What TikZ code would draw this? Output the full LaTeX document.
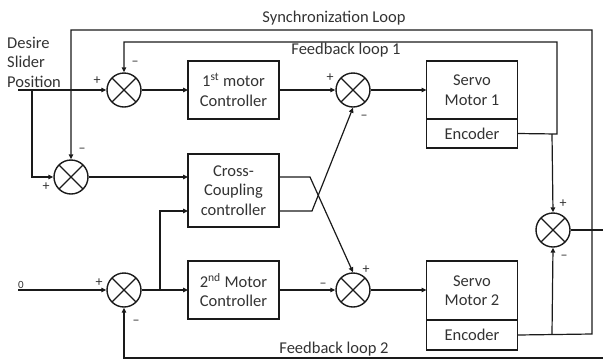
\documentclass[tikz,border=0pt]{standalone}
\usepackage{fontspec}
\setmainfont{Carlito}
\usetikzlibrary{arrows.meta}
\definecolor{ln}{HTML}{1A1A1A}
\definecolor{tx}{HTML}{333333}
\tikzset{
  blk/.style={draw=ln, line width=1.3pt, rectangle, inner sep=0pt, outer sep=0pt, minimum width=91pt, align=center, text=tx, font=\fontsize{16.5}{19.5}\selectfont},
  sumj/.style={circle, draw=ln, line width=1.4pt, minimum size=34pt, inner sep=0pt,
    path picture={\draw[ln, line width=1.2pt] (path picture bounding box.north west) -- (path picture bounding box.south east)
      (path picture bounding box.north east) -- (path picture bounding box.south west);}},
  wire/.style={draw=ln, line width=1.2pt},
  arr/.style={wire, -{Triangle[length=5pt,width=4.5pt]}},
  sgn/.style={text=tx, inner sep=0pt, font=\fontsize{14}{14}\selectfont},
  lbl/.style={text=tx, inner sep=0pt, font=\fontsize{16.5}{19.5}\selectfont},
}
\begin{document}
\begin{tikzpicture}[x=1pt,y=-1pt]
\useasboundingbox (0,0) rectangle (603,360);
% blocks
\node[blk, minimum height=58pt] (mc1) at (233.5,90) {1\textsuperscript{st} motor\\Controller};
\node[blk, minimum height=73pt] (cc) at (233.5,190.5) {Cross-\\Coupling\\controller};
\node[blk, minimum height=58pt] (mc2) at (233.5,290) {2\textsuperscript{nd} Motor\\Controller};
\node[blk, minimum height=58pt] (sv1) at (472,90) {Servo\\Motor 1};
\node[blk, minimum height=29pt, anchor=north] (en1) at (sv1.south) {Encoder};
\node[blk, minimum height=59pt] (sv2) at (472,290.5) {Servo\\Motor 2};
\node[blk, minimum height=30pt, anchor=north] (en2) at (sv2.south) {Encoder};
% summing junctions
\node[sumj] (s1) at (124,90) {};
\node[sumj] (sc) at (71,177) {};
\node[sumj] (s2) at (353,90) {};
\node[sumj] (s4) at (124,290) {};
\node[sumj] (s3) at (353,290) {};
\node[sumj] (s5) at (553,230) {};
% labels
\node[lbl, anchor=west, align=left] (des) at (7,62) {Desire\\Slider\\Position};
\node[lbl, font=\fontsize{11}{11}\selectfont] (zero) at (21,285) {0};
\node[lbl] (syn) at (334,18) {Synchronization Loop};
\node[lbl] (fl1) at (346,50) {Feedback loop 1};
\node[lbl] (fl2) at (334,349) {Feedback loop 2};
% coordinates
\coordinate (in1) at (18,90);
\coordinate (br1) at (32,90);
\coordinate (in2) at (18,290);
\coordinate (out) at (603,230);
\coordinate (fbend) at (603,358);
% forward paths
\draw[arr] (in1) -- (s1.west);
\draw[arr] (br1) |- (sc.west);
\draw[arr] (s1.east) -- (mc1.west);
\draw[arr] (mc1.east) -- (s2.west);
\draw[arr] (s2.east) -- (sv1.west |- s2);
\draw[arr] (sc.east) -- (cc.west |- sc);
\draw[arr] (in2) -- (s4.west);
\draw[arr] (s4.east) -- (mc2.west);
\draw[arr] (160,290) |- (188,211);
\draw[arr] (mc2.east) -- (s3.west);
\draw[arr] (s3.east) -- (sv2.west |- s3);
% cross coupling outputs
\draw[arr] (279,177) -- (310,177) -- (s3.north);
\draw[arr] (279,211) -- (312,211) -- (s2.south);
% feedback loop 1
\draw[arr] (en1.east) -- (557,134) -- (557,42) -- (124,42) -- (s1.north);
\draw[arr] (552,134) -- (s5.north);
% synchronization loop
\draw[arr] (en2.east) -- (592,334) -- (592,30) -- (71,30) -- (sc.north);
\draw[arr] (552,334) -- (s5.south);
\draw[wire] (s5.east) -- (out);
% feedback loop 2
\draw[arr] (fbend) -- (124,358) -- (s4.south);
% signs
\node[sgn] at (97,81) {+};
\node[sgn] at (135,63) {–};
\node[sgn] at (82,150) {–};
\node[sgn] at (46,187) {+};
\node[sgn] at (330,78) {+};
\node[sgn] at (364,117) {–};
\node[sgn] at (99,283) {+};
\node[sgn] at (136,322) {–};
\node[sgn] at (323,285) {–};
\node[sgn] at (366,270) {+};
\node[sgn] at (563,204) {+};
\node[sgn] at (564,257) {–};
\end{tikzpicture}
\end{document}
